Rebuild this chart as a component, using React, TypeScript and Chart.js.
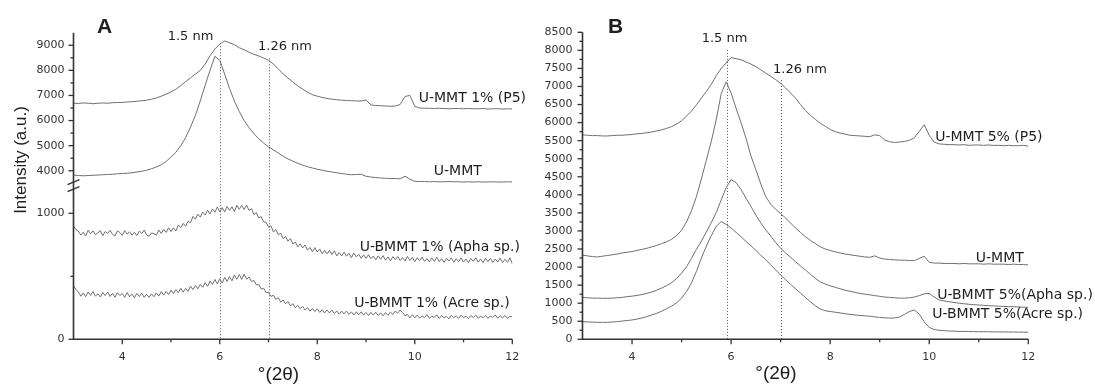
import React, { useEffect, useRef } from "react";
import { Chart, registerables } from "chart.js";

Chart.register(...registerables);

// 2θ positions (degrees), 0.1° step
const twoTheta = [
  3.0, 3.1, 3.2, 3.3, 3.4, 3.5, 3.6, 3.7, 3.8, 3.9,
  4.0, 4.1, 4.2, 4.3, 4.4, 4.5, 4.6, 4.7, 4.8, 4.9,
  5.0, 5.1, 5.2, 5.3, 5.4, 5.5, 5.6, 5.7, 5.8, 5.9,
  6.0, 6.1, 6.2, 6.3, 6.4, 6.5, 6.6, 6.7, 6.8, 6.9,
  7.0, 7.1, 7.2, 7.3, 7.4, 7.5, 7.6, 7.7, 7.8, 7.9,
  8.0, 8.1, 8.2, 8.3, 8.4, 8.5, 8.6, 8.7, 8.8, 8.9,
  9.0, 9.1, 9.2, 9.3, 9.4, 9.5, 9.6, 9.7, 9.8, 9.9,
  10.0, 10.1, 10.2, 10.3, 10.4, 10.5, 10.6, 10.7, 10.8, 10.9,
  11.0, 11.1, 11.2, 11.3, 11.4, 11.5, 11.6, 11.7, 11.8, 11.9,
  12.0,
];

// 2θ positions (degrees), 0.05° step, for the noisy bio-clay scans
const twoThetaFine = [
  3.00, 3.05, 3.10, 3.15, 3.20, 3.25, 3.30, 3.35, 3.40, 3.45, 3.50, 3.55, 3.60, 3.65, 3.70, 3.75, 3.80, 3.85, 3.90, 3.95,
  4.00, 4.05, 4.10, 4.15, 4.20, 4.25, 4.30, 4.35, 4.40, 4.45, 4.50, 4.55, 4.60, 4.65, 4.70, 4.75, 4.80, 4.85, 4.90, 4.95,
  5.00, 5.05, 5.10, 5.15, 5.20, 5.25, 5.30, 5.35, 5.40, 5.45, 5.50, 5.55, 5.60, 5.65, 5.70, 5.75, 5.80, 5.85, 5.90, 5.95,
  6.00, 6.05, 6.10, 6.15, 6.20, 6.25, 6.30, 6.35, 6.40, 6.45, 6.50, 6.55, 6.60, 6.65, 6.70, 6.75, 6.80, 6.85, 6.90, 6.95,
  7.00, 7.05, 7.10, 7.15, 7.20, 7.25, 7.30, 7.35, 7.40, 7.45, 7.50, 7.55, 7.60, 7.65, 7.70, 7.75, 7.80, 7.85, 7.90, 7.95,
  8.00, 8.05, 8.10, 8.15, 8.20, 8.25, 8.30, 8.35, 8.40, 8.45, 8.50, 8.55, 8.60, 8.65, 8.70, 8.75, 8.80, 8.85, 8.90, 8.95,
  9.00, 9.05, 9.10, 9.15, 9.20, 9.25, 9.30, 9.35, 9.40, 9.45, 9.50, 9.55, 9.60, 9.65, 9.70, 9.75, 9.80, 9.85, 9.90, 9.95,
  10.00, 10.05, 10.10, 10.15, 10.20, 10.25, 10.30, 10.35, 10.40, 10.45, 10.50, 10.55, 10.60, 10.65, 10.70, 10.75, 10.80, 10.85, 10.90, 10.95,
  11.00, 11.05, 11.10, 11.15, 11.20, 11.25, 11.30, 11.35, 11.40, 11.45, 11.50, 11.55, 11.60, 11.65, 11.70, 11.75, 11.80, 11.85, 11.90, 11.95,
  12.00,
];

// Panel A
const aMmtP5 = [
  6690, 6680, 6700, 6690, 6670, 6690, 6700, 6690, 6710, 6720,
  6720, 6740, 6750, 6770, 6790, 6810, 6850, 6900, 6970, 7050,
  7140, 7250, 7390, 7550, 7700, 7850, 8000, 8250, 8580, 8850,
  9050, 9170, 9100, 9020, 8900, 8820, 8720, 8640, 8570, 8490,
  8400, 8250, 8060, 7860, 7690, 7530, 7380, 7250, 7130, 7030,
  6970, 6920, 6880, 6850, 6830, 6810, 6800, 6790, 6780, 6780,
  6820, 6620, 6600, 6590, 6580, 6570, 6580, 6640, 6960, 7000,
  6560, 6500, 6490, 6490, 6480, 6490, 6480, 6470, 6480, 6480,
  6470, 6480, 6470, 6470, 6480, 6460, 6470, 6470, 6460, 6470,
  6460,
];
const aMmt = [
  3830, 3810, 3800, 3810, 3820, 3830, 3840, 3850, 3860, 3880,
  3890, 3900, 3920, 3950, 3980, 4020, 4080, 4150, 4240, 4370,
  4540, 4740, 5000, 5320, 5740, 6200, 6780, 7400, 8000, 8560,
  8400, 7850, 7280, 6780, 6360, 6000, 5720, 5480, 5270, 5100,
  4950, 4830, 4710, 4580, 4470, 4380, 4300, 4220, 4160, 4110,
  4060, 4020, 3980, 3950, 3920, 3890, 3860, 3840, 3850, 3860,
  3780, 3750, 3730, 3710, 3700, 3690, 3690, 3680, 3780, 3660,
  3580, 3570, 3570, 3560, 3570, 3560, 3560, 3570, 3560, 3560,
  3550, 3560, 3550, 3560, 3550, 3550, 3560, 3550, 3550, 3560,
  3550,
];
const aBmmtApha = [
  900, 870, 857, 827, 850, 820, 865, 837, 860, 830, 845, 863, 823, 855, 840, 865, 833, 820, 860, 848,
  825, 863, 835, 853, 827, 850, 823, 859, 839, 867, 828, 817, 845, 838, 826, 867, 840, 871, 848, 885,
  855, 885, 860, 907, 887, 920, 897, 937, 925, 975, 953, 993, 970, 1010, 987, 1025, 995, 1035, 1008, 1050,
  1012, 1045, 1010, 1054, 1023, 1052, 1013, 1063, 1032, 1063, 1030, 1065, 1023, 1037, 990, 1005, 963, 973, 930, 930,
  890, 900, 852, 871, 830, 842, 799, 815, 778, 799, 755, 773, 734, 758, 725, 749, 708, 729, 694, 728,
  693, 717, 679, 706, 678, 707, 673, 703, 662, 688, 661, 691, 660, 683, 647, 684, 654, 675, 643, 670,
  642, 672, 640, 661, 631, 662, 635, 664, 628, 654, 623, 656, 632, 657, 625, 648, 622, 657, 625, 650,
  617, 647, 624, 652, 618, 641, 614, 647, 619, 651, 615, 640, 610, 643, 621, 647, 612, 640, 616, 646,
  613, 637, 609, 642, 619, 647, 612, 638, 608, 642, 616, 643, 610, 637, 613, 645, 609, 635, 611, 647,
  600,
];
const aBmmtAcre = [
  425, 395, 375, 342, 368, 338, 376, 348, 380, 342, 362, 336, 371, 347, 375, 340, 364, 333, 369, 347,
  364, 333, 371, 338, 358, 330, 364, 339, 367, 332, 358, 332, 361, 338, 368, 343, 378, 351, 380, 354,
  390, 363, 394, 371, 405, 374, 405, 381, 421, 395, 428, 401, 435, 413, 450, 420, 462, 435, 475, 440,
  480, 446, 492, 459, 497, 464, 511, 476, 515, 475, 517, 476, 495, 458, 467, 432, 435, 398, 405, 370,
  373, 340, 350, 317, 330, 295, 312, 282, 299, 265, 282, 250, 270, 243, 262, 232, 250, 224, 245, 220,
  242, 214, 234, 209, 233, 209, 232, 204, 225, 200, 224, 201, 224, 197, 218, 193, 218, 195, 218, 192,
  213, 189, 214, 192, 215, 189, 210, 186, 212, 190, 216, 197, 224, 209, 232, 211, 187, 197, 170, 195,
  170, 192, 168, 186, 172, 195, 166, 184, 174, 194, 165, 188, 170, 182, 163, 190, 172, 186, 166, 192,
  170, 184, 164, 189, 173, 192, 167, 183, 171, 190, 165, 185, 174, 193, 168, 186, 170, 189, 166, 184,
  176,
];

// Panel B
const bMmtP5 = [
  5660, 5650, 5640, 5640, 5630, 5630, 5640, 5650, 5650, 5660,
  5670, 5690, 5700, 5720, 5740, 5770, 5800, 5840, 5890, 5960,
  6050, 6180, 6320, 6490, 6680, 6860, 7060, 7300, 7500, 7650,
  7800, 7770, 7740, 7680, 7620, 7550, 7460, 7370, 7280, 7190,
  7090, 6960, 6820, 6680, 6500, 6340, 6200, 6090, 5980, 5900,
  5810, 5750, 5710, 5680, 5650, 5640, 5630, 5620, 5610, 5660,
  5640, 5520, 5470, 5450, 5460, 5480, 5510, 5580, 5760, 5940,
  5650, 5460, 5410, 5400, 5390, 5390, 5380, 5390, 5370, 5380,
  5380, 5370, 5380, 5370, 5370, 5360, 5370, 5360, 5360, 5370,
  5350,
];
const bMmt = [
  2330, 2310, 2290, 2280, 2300, 2320, 2340, 2360, 2390, 2410,
  2430, 2460, 2490, 2520, 2560, 2600, 2650, 2700, 2770, 2870,
  3020, 3250, 3560, 3950, 4440, 4960, 5480, 6080, 6800, 7130,
  6820, 6400, 6000, 5570, 5080, 4700, 4300, 3950, 3740, 3600,
  3480, 3360, 3220, 3080, 2960, 2840, 2740, 2650, 2560, 2500,
  2460, 2420, 2390, 2360, 2340, 2320, 2300, 2280, 2270, 2310,
  2250, 2220, 2210, 2200, 2190, 2190, 2180, 2180, 2240, 2300,
  2130, 2110, 2110, 2100, 2100, 2100, 2090, 2100, 2090, 2090,
  2090, 2080, 2090, 2080, 2080, 2080, 2070, 2080, 2070, 2070,
  2060,
];
const bBmmtApha = [
  1160, 1150, 1140, 1140, 1135, 1135, 1140, 1150, 1160, 1180,
  1195, 1215, 1240, 1270, 1310, 1360, 1420, 1490, 1570, 1680,
  1830, 2010, 2240, 2490, 2720, 2970, 3230, 3510, 3860, 4200,
  4420, 4340, 4150, 3910, 3680, 3440, 3220, 3030, 2860, 2680,
  2520, 2390, 2270, 2150, 2030, 1920, 1800, 1690, 1590, 1530,
  1480, 1440, 1400, 1360, 1330, 1300, 1270, 1250, 1230, 1210,
  1190, 1170, 1160, 1150, 1140, 1140, 1150, 1170, 1210, 1260,
  1270, 1170, 1090, 1060, 1040, 1020, 1000, 985, 970, 960,
  950, 940, 930, 925, 915, 910, 905, 900, 895, 890,
  885,
];
const bBmmtAcre = [
  490, 480, 475, 470, 468, 470, 478, 490, 505, 520,
  535, 560, 590, 630, 675, 720, 780, 850, 920, 1010,
  1140, 1320, 1560, 1880, 2250, 2580, 2870, 3130, 3260, 3180,
  3080, 2960, 2840, 2710, 2590, 2460, 2330, 2200, 2060, 1920,
  1780, 1650, 1520, 1400, 1280, 1160, 1040, 930, 840, 790,
  770, 750, 730, 710, 690, 675, 660, 650, 640, 620,
  605, 595, 585, 590, 620, 690, 770, 810, 700, 480,
  330, 270, 250, 240, 230, 225, 220, 218, 215, 212,
  210, 210, 208, 205, 205, 203, 202, 200, 200, 198,
  195,
];

// Ticks
const xMajorTicks = [4, 6, 8, 10, 12];
const xMinorTicks = [5, 7, 9, 11];
const aHighMajor = [4000, 5000, 6000, 7000, 8000, 9000];
const aHighMinor = [4500, 5500, 6500, 7500, 8500];
const aLowMajor = [0, 1000];
const aLowMinor = [500];
const bMajor = [0, 500, 1000, 1500, 2000, 2500, 3000, 3500, 4000, 4500, 5000, 5500, 6000, 6500, 7000, 7500, 8000, 8500];
const bMinor = [250, 750, 1250, 1750, 2250, 2750, 3250, 3750, 4250, 4750, 5250, 5750, 6250, 6750, 7250, 7750, 8250];

const yAxisTitle = "Intensity (a.u.)";
const xAxisTitle = "°(2θ)";

const SANS = '"DejaVu Sans", sans-serif';
const ARIAL = '"Liberation Sans", Arial, sans-serif';
const CURVE = "#707070";
const INK = "#1e1e1e";

function series(label: string, xs: number[], values: number[], yAxisID: string) {
  return {
    label,
    data: xs.map((x, i) => ({ x, y: values[i] })),
    yAxisID,
    borderColor: CURVE,
    borderWidth: 1,
    pointRadius: 0,
    fill: false,
    tension: 0,
  };
}

const fixedTicks = (vals: number[]) => (s: any) => {
  s.ticks = vals.map((value) => ({ value }));
};

function makeOverlay(p: any) {
  return {
    id: "overlay",
    beforeDatasetsDraw(chart: any) {
      const ctx = chart.ctx;
      const xs = chart.scales.x;
      const bottom = chart.chartArea.bottom;
      ctx.save();
      ctx.strokeStyle = "#555";
      ctx.lineWidth = 1;
      ctx.setLineDash([1, 2]);
      for (const v of p.vlines) {
        const px = Math.round(xs.getPixelForValue(v.x)) + 0.5;
        const top = chart.scales[v.axis].getPixelForValue(v.top);
        ctx.beginPath();
        ctx.moveTo(px, top);
        ctx.lineTo(px, bottom);
        ctx.stroke();
      }
      ctx.restore();
    },
    afterDraw(chart: any) {
      const ctx = chart.ctx;
      const a = chart.chartArea;
      const xs = chart.scales.x;
      ctx.save();
      const seg = (x1: number, y1: number, x2: number, y2: number) => {
        ctx.beginPath();
        ctx.moveTo(x1, y1);
        ctx.lineTo(x2, y2);
        ctx.stroke();
      };
      ctx.strokeStyle = "#333";
      ctx.lineWidth = 1.6;
      ctx.beginPath();
      ctx.moveTo(a.left, a.top);
      ctx.lineTo(a.left, a.bottom);
      ctx.lineTo(a.right, a.bottom);
      ctx.stroke();
      ctx.lineWidth = 1.3;
      for (const v of xMajorTicks) {
        const px = xs.getPixelForValue(v);
        seg(px, a.bottom, px, a.bottom + 5);
      }
      for (const v of xMinorTicks) {
        const px = xs.getPixelForValue(v);
        seg(px, a.bottom, px, a.bottom + 3);
      }
      for (const t of p.yTicks) {
        const s = chart.scales[t.axis];
        for (const v of t.major) {
          const py = s.getPixelForValue(v);
          seg(a.left - 5, py, a.left, py);
        }
        for (const v of t.minor) {
          const py = s.getPixelForValue(v);
          seg(a.left - 3, py, a.left, py);
        }
      }
      if (p.axisBreak) {
        const yb = (chart.scales.yHigh.bottom + chart.scales.yLow.top) / 2;
        ctx.lineWidth = 1.4;
        for (const d of [-3.5, 3.5]) seg(a.left - 6, yb + d + 2.5, a.left + 6, yb + d - 2.5);
      }
      ctx.fillStyle = INK;
      ctx.textBaseline = "middle";
      ctx.textAlign = "left";
      ctx.font = `14px ${SANS}`;
      for (const l of p.seriesLabels) {
        const px = xs.getPixelForValue(l.x);
        const py = chart.scales[l.axis].getPixelForValue(l.y);
        ctx.fillText(l.text, px, py);
      }
      ctx.font = `13px ${SANS}`;
      ctx.textAlign = "center";
      for (const n of p.notes) ctx.fillText(n.text, n.px, n.py);
      ctx.font = `bold 21px ${ARIAL}`;
      ctx.textAlign = "left";
      ctx.textBaseline = "alphabetic";
      ctx.fillText(p.letter, p.letterX, p.letterY);
      ctx.font = `19px ${ARIAL}`;
      ctx.textAlign = "center";
      ctx.textBaseline = "middle";
      ctx.fillText(xAxisTitle, p.xTitleX, p.xTitleY);
      if (p.yTitle) {
        ctx.translate(p.yTitleX, p.yTitleY);
        ctx.rotate(-Math.PI / 2);
        ctx.font = `17px ${ARIAL}`;
        ctx.fillText(p.yTitle, 0, 0);
      }
      ctx.restore();
    },
  };
}

const tickFont = { family: SANS, size: 11 };

function xScale() {
  return {
    type: "linear",
    min: 3,
    max: 12,
    grid: { display: false, drawTicks: false },
    border: { display: false },
    afterBuildTicks: fixedTicks(xMajorTicks),
    ticks: {
      autoSkip: false,
      maxRotation: 0,
      padding: 11,
      font: tickFont,
      color: "#333",
      callback: (v: number) => String(v),
    },
    afterFit: (s: any) => {
      s.height = 45.7;
    },
  };
}

function yTickOpts(padding: number) {
  return {
    autoSkip: false,
    padding,
    font: tickFont,
    color: "#333",
    callback: (v: number) => String(v),
  };
}

function leftConfig(): any {
  const yw = (s: any) => {
    s.width = 73.5;
  };
  return {
    type: "line",
    data: {
      datasets: [
        series("U-MMT 1% (P5)", twoTheta, aMmtP5, "yHigh"),
        series("U-MMT", twoTheta, aMmt, "yHigh"),
        series("U-BMMT 1% (Apha sp.)", twoThetaFine, aBmmtApha, "yLow"),
        series("U-BMMT 1% (Acre sp.)", twoThetaFine, aBmmtAcre, "yLow"),
      ],
    },
    options: {
      responsive: false,
      animation: false,
      devicePixelRatio: 1,
      events: [],
      layout: { padding: { top: 32.7, right: 27.7, left: 0, bottom: 0 } },
      plugins: { legend: { display: false }, tooltip: { enabled: false } },
      scales: {
        x: xScale(),
        yHigh: {
          type: "linear",
          position: "left",
          stack: "v",
          stackWeight: 150.6,
          weight: 3,
          min: 3500,
          max: 9500,
          grid: { display: false, drawTicks: false },
          border: { display: false },
          afterBuildTicks: fixedTicks(aHighMajor),
          ticks: yTickOpts(9),
          afterFit: yw,
        },
        yGap: {
          type: "linear",
          position: "left",
          stack: "v",
          stackWeight: 4.8,
          weight: 2,
          min: 0,
          max: 1,
          grid: { display: false, drawTicks: false },
          border: { display: false },
          ticks: { display: false },
          afterFit: yw,
        },
        yLow: {
          type: "linear",
          position: "left",
          stack: "v",
          stackWeight: 151.2,
          weight: 1,
          min: 0,
          max: 1200,
          grid: { display: false, drawTicks: false },
          border: { display: false },
          afterBuildTicks: fixedTicks(aLowMajor),
          ticks: yTickOpts(9),
          afterFit: yw,
        },
      },
    },
    plugins: [
      makeOverlay({
        vlines: [
          { x: 6.0, top: 9080, axis: "yHigh" },
          { x: 7.0, top: 8480, axis: "yHigh" },
        ],
        yTicks: [
          { axis: "yHigh", major: aHighMajor, minor: aHighMinor },
          { axis: "yLow", major: aLowMajor, minor: aLowMinor },
        ],
        axisBreak: true,
        seriesLabels: [
          { text: "U-MMT 1% (P5)", x: 10.08, y: 6888, axis: "yHigh" },
          { text: "U-MMT", x: 10.39, y: 3980, axis: "yHigh" },
          { text: "U-BMMT 1% (Apha sp.)", x: 8.87, y: 733, axis: "yLow" },
          { text: "U-BMMT 1% (Acre sp.)", x: 8.76, y: 288, axis: "yLow" },
        ],
        notes: [
          { text: "1.5 nm", px: 190.5, py: 37 },
          { text: "1.26 nm", px: 285, py: 47 },
        ],
        letter: "A",
        letterX: 97,
        letterY: 33,
        xTitleX: 278.5,
        xTitleY: 375,
        yTitle: yAxisTitle,
        yTitleX: 21,
        yTitleY: 160,
      }),
    ],
  };
}

function rightConfig(): any {
  return {
    type: "line",
    data: {
      datasets: [
        series("U-MMT 5% (P5)", twoTheta, bMmtP5, "y"),
        series("U-MMT", twoTheta, bMmt, "y"),
        series("U-BMMT 5%(Apha sp.)", twoTheta, bBmmtApha, "y"),
        series("U-BMMT 5%(Acre sp.)", twoTheta, bBmmtAcre, "y"),
      ],
    },
    options: {
      responsive: false,
      animation: false,
      devicePixelRatio: 1,
      events: [],
      layout: { padding: { top: 32.3, right: 66.7, left: 0, bottom: 0 } },
      plugins: { legend: { display: false }, tooltip: { enabled: false } },
      scales: {
        x: xScale(),
        y: {
          type: "linear",
          position: "left",
          min: 0,
          max: 8500,
          grid: { display: false, drawTicks: false },
          border: { display: false },
          afterBuildTicks: fixedTicks(bMajor),
          ticks: yTickOpts(10),
          afterFit: (s: any) => {
            s.width = 42.5;
          },
        },
      },
    },
    plugins: [
      makeOverlay({
        vlines: [
          { x: 5.92, top: 8013, axis: "y" },
          { x: 7.0, top: 7180, axis: "y" },
        ],
        yTicks: [{ axis: "y", major: bMajor, minor: bMinor }],
        axisBreak: false,
        seriesLabels: [
          { text: "U-MMT 5% (P5)", x: 10.12, y: 5604, axis: "y" },
          { text: "U-MMT", x: 10.94, y: 2252, axis: "y" },
          { text: "U-BMMT 5%(Apha sp.)", x: 10.16, y: 1227, axis: "y" },
          { text: "U-BMMT 5%(Acre sp.)", x: 10.06, y: 701, axis: "y" },
        ],
        notes: [
          { text: "1.5 nm", px: 184.5, py: 39 },
          { text: "1.26 nm", px: 260, py: 70 },
        ],
        letter: "B",
        letterX: 68,
        letterY: 33,
        xTitleX: 236,
        xTitleY: 374,
        yTitle: null,
      }),
    ],
  };
}

export default function App() {
  const leftRef = useRef<HTMLCanvasElement | null>(null);
  const rightRef = useRef<HTMLCanvasElement | null>(null);
  useEffect(() => {
    const c1 = new Chart(leftRef.current as any, leftConfig());
    const c2 = new Chart(rightRef.current as any, rightConfig());
    return () => {
      c1.destroy();
      c2.destroy();
    };
  }, []);
  return (
    <div style={{ position: "fixed", left: 0, top: 0, width: 1095, height: 385, background: "#fff" }}>
      <canvas ref={leftRef} width={540} height={385} style={{ position: "absolute", left: 0, top: 0 }} />
      <canvas ref={rightRef} width={555} height={385} style={{ position: "absolute", left: 540, top: 0 }} />
    </div>
  );
}
